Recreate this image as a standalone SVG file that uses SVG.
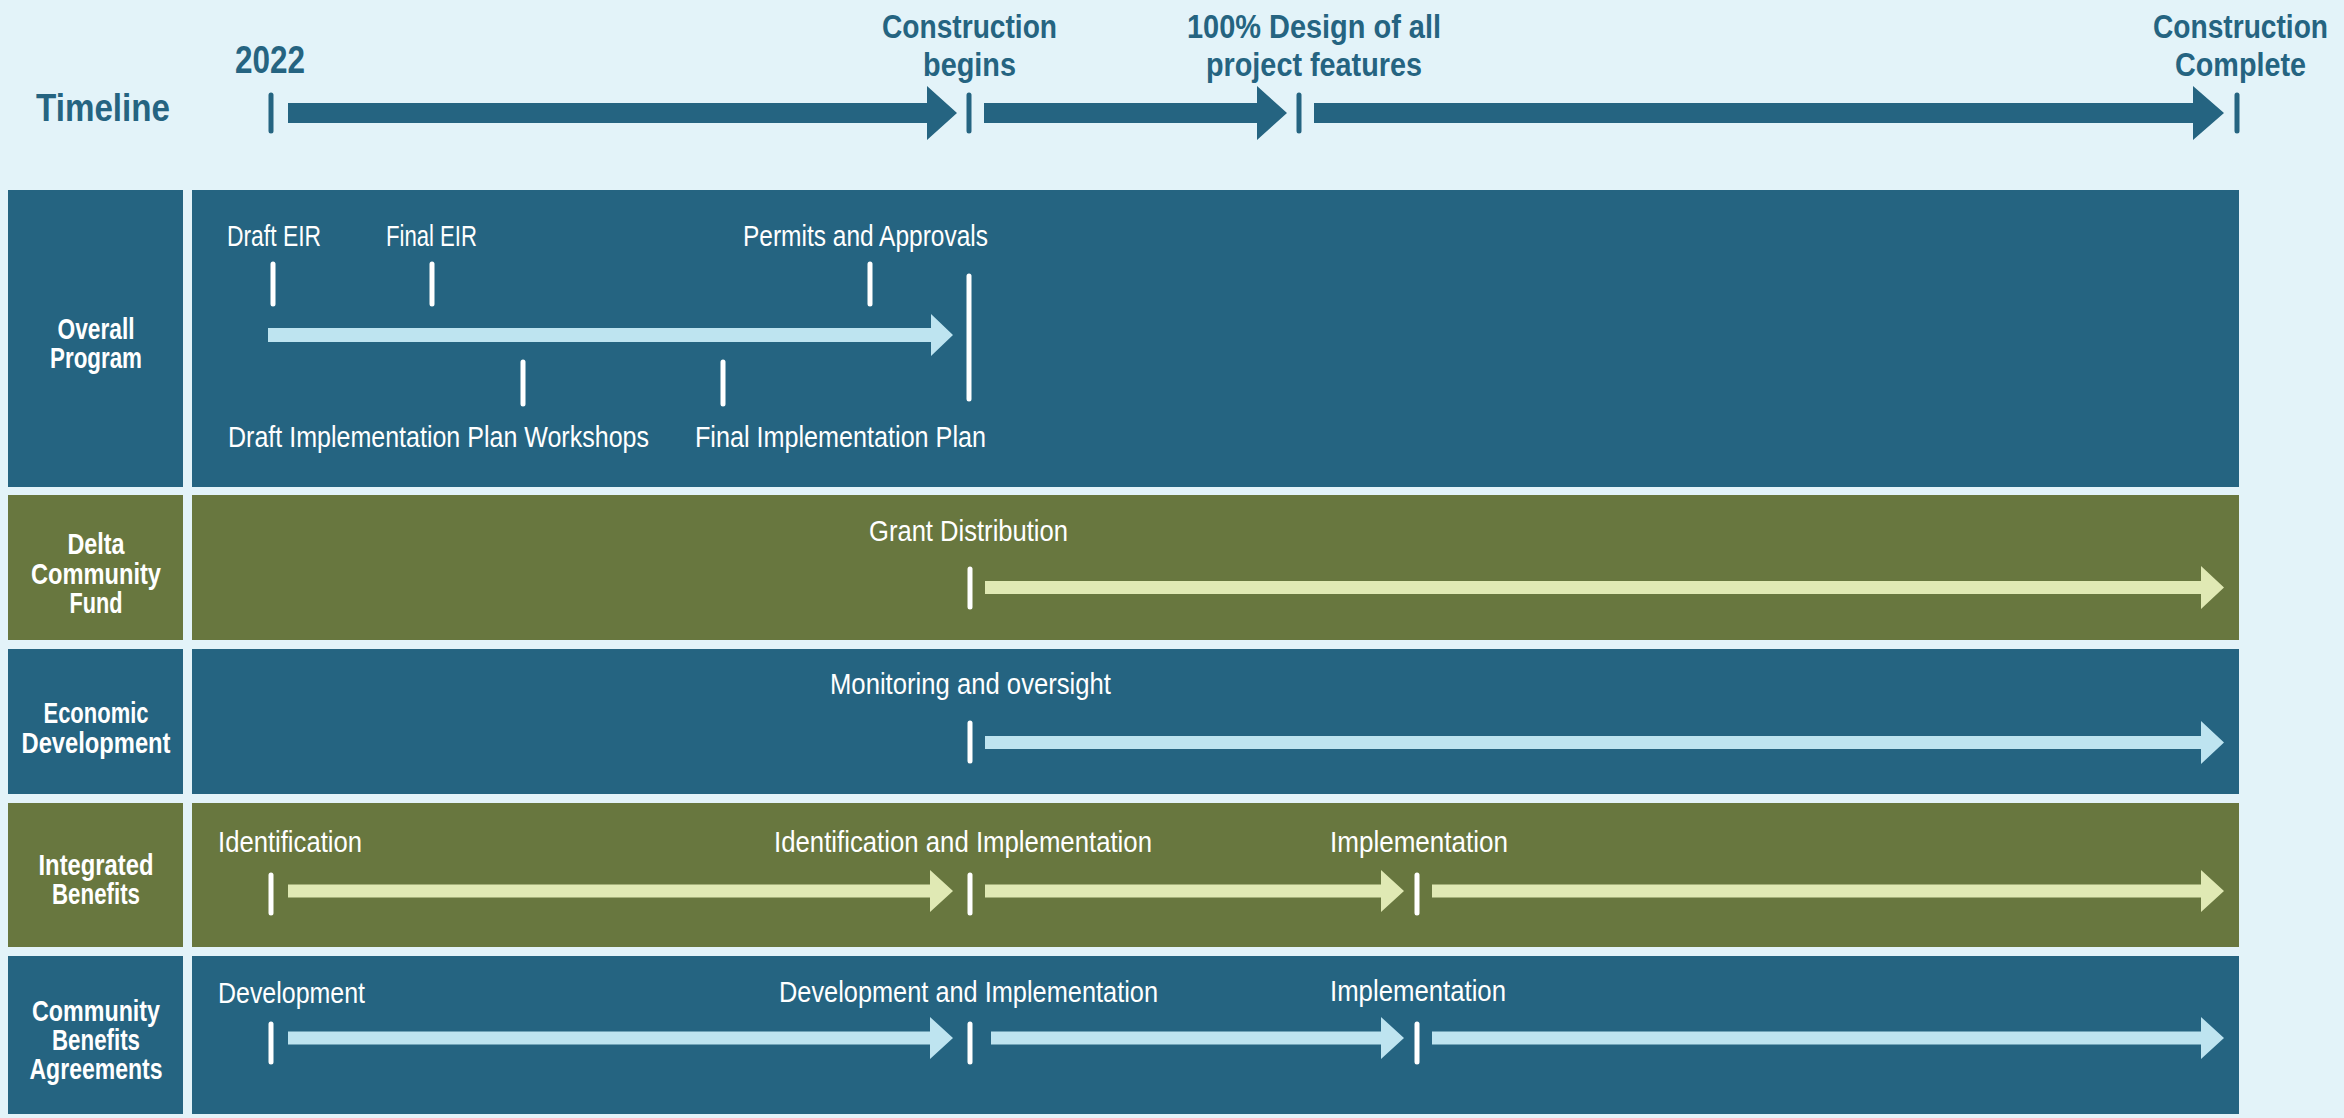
<svg xmlns="http://www.w3.org/2000/svg" width="2344" height="1118" viewBox="0 0 2344 1118">
<style>
.bg{fill:#E3F3F9}
.blue{fill:#256481}
.olive{fill:#68773F}
.tick{stroke:#FFFFFF;stroke-width:5;stroke-linecap:round;fill:none}
.htick{stroke:#256481;stroke-width:5;stroke-linecap:round;fill:none}
.harrow{fill:#256481}
.larrow{fill:#BEE4F0}
.garrow{fill:#E0E9B4}
.head{font-family:"Liberation Sans",Arial,sans-serif;font-weight:bold;fill:#256481}
.lbl{font-family:"Liberation Sans",Arial,sans-serif;font-weight:bold;font-size:30px;fill:#FFFFFF;text-anchor:middle}
.txt{font-family:"Liberation Sans",Arial,sans-serif;font-size:30px;fill:#FFFFFF}
</style>
<rect class="bg" x="0" y="0" width="2344" height="1118"/>

<g id="timeline-header">
  <text class="head" x="36" y="121" font-size="39" textLength="134" lengthAdjust="spacingAndGlyphs">Timeline</text>
  <text class="head" x="235" y="73" font-size="39" textLength="70" lengthAdjust="spacingAndGlyphs">2022</text>
  <text class="head" x="882" y="38" font-size="33" textLength="175" lengthAdjust="spacingAndGlyphs">Construction</text>
  <text class="head" x="923" y="76" font-size="33" textLength="93" lengthAdjust="spacingAndGlyphs">begins</text>
  <text class="head" x="1187" y="38" font-size="33" textLength="254" lengthAdjust="spacingAndGlyphs">100% Design of all</text>
  <text class="head" x="1206" y="76" font-size="33" textLength="216" lengthAdjust="spacingAndGlyphs">project features</text>
  <text class="head" x="2153" y="38" font-size="33" textLength="175" lengthAdjust="spacingAndGlyphs">Construction</text>
  <text class="head" x="2175" y="76" font-size="33" textLength="131" lengthAdjust="spacingAndGlyphs">Complete</text>
  <line class="htick" x1="271" y1="95" x2="271" y2="131"/>
  <line class="htick" x1="969" y1="95" x2="969" y2="131"/>
  <line class="htick" x1="1299" y1="95" x2="1299" y2="131"/>
  <line class="htick" x1="2237" y1="95" x2="2237" y2="131"/>
</g>

<g id="row-overall-program">
  <rect class="blue" x="8" y="190" width="175" height="297"/>
  <rect class="blue" x="192" y="190" width="2047" height="297"/>
  <text class="lbl" x="96" y="339" textLength="77" lengthAdjust="spacingAndGlyphs">Overall</text>
  <text class="lbl" x="96" y="368" textLength="92" lengthAdjust="spacingAndGlyphs">Program</text>
  <text class="txt" x="227" y="246" textLength="94" lengthAdjust="spacingAndGlyphs">Draft EIR</text>
  <text class="txt" x="386" y="246" textLength="91" lengthAdjust="spacingAndGlyphs">Final EIR</text>
  <text class="txt" x="743" y="246" textLength="245" lengthAdjust="spacingAndGlyphs">Permits and Approvals</text>
  <text class="txt" x="228" y="447" textLength="421" lengthAdjust="spacingAndGlyphs">Draft Implementation Plan Workshops</text>
  <text class="txt" x="695" y="447" textLength="291" lengthAdjust="spacingAndGlyphs">Final Implementation Plan</text>
  <line class="tick" x1="273" y1="264" x2="273" y2="304"/>
  <line class="tick" x1="432" y1="264" x2="432" y2="304"/>
  <line class="tick" x1="870" y1="264" x2="870" y2="304"/>
  <line class="tick" x1="523" y1="362" x2="523" y2="404"/>
  <line class="tick" x1="723" y1="362" x2="723" y2="404"/>
  <line class="tick" x1="969" y1="276" x2="969" y2="399"/>
</g>

<g id="row-delta-community-fund">
  <rect class="olive" x="8" y="495" width="175" height="145"/>
  <rect class="olive" x="192" y="495" width="2047" height="145"/>
  <text class="lbl" x="96" y="554" textLength="57" lengthAdjust="spacingAndGlyphs">Delta</text>
  <text class="lbl" x="96" y="584" textLength="130" lengthAdjust="spacingAndGlyphs">Community</text>
  <text class="lbl" x="96" y="613" textLength="53" lengthAdjust="spacingAndGlyphs">Fund</text>
  <text class="txt" x="869" y="541" textLength="199" lengthAdjust="spacingAndGlyphs">Grant Distribution</text>
  <line class="tick" x1="970" y1="569" x2="970" y2="607"/>
</g>

<g id="row-economic-development">
  <rect class="blue" x="8" y="649" width="175" height="145"/>
  <rect class="blue" x="192" y="649" width="2047" height="145"/>
  <text class="lbl" x="96" y="723" textLength="105" lengthAdjust="spacingAndGlyphs">Economic</text>
  <text class="lbl" x="96" y="753" textLength="149" lengthAdjust="spacingAndGlyphs">Development</text>
  <text class="txt" x="830" y="694" textLength="281" lengthAdjust="spacingAndGlyphs">Monitoring and oversight</text>
  <line class="tick" x1="970" y1="723" x2="970" y2="761"/>
</g>

<g id="row-integrated-benefits">
  <rect class="olive" x="8" y="803" width="175" height="144"/>
  <rect class="olive" x="192" y="803" width="2047" height="144"/>
  <text class="lbl" x="96" y="875" textLength="115" lengthAdjust="spacingAndGlyphs">Integrated</text>
  <text class="lbl" x="96" y="904" textLength="88" lengthAdjust="spacingAndGlyphs">Benefits</text>
  <text class="txt" x="218" y="852" textLength="144" lengthAdjust="spacingAndGlyphs">Identification</text>
  <text class="txt" x="774" y="852" textLength="378" lengthAdjust="spacingAndGlyphs">Identification and Implementation</text>
  <text class="txt" x="1330" y="852" textLength="178" lengthAdjust="spacingAndGlyphs">Implementation</text>
  <line class="tick" x1="271" y1="875" x2="271" y2="913"/>
  <line class="tick" x1="970" y1="875" x2="970" y2="913"/>
  <line class="tick" x1="1417" y1="875" x2="1417" y2="913"/>
</g>

<g id="row-community-benefits-agreements">
  <rect class="blue" x="8" y="956" width="175" height="158"/>
  <rect class="blue" x="192" y="956" width="2047" height="158"/>
  <text class="lbl" x="96" y="1021" textLength="128" lengthAdjust="spacingAndGlyphs">Community</text>
  <text class="lbl" x="96" y="1050" textLength="88" lengthAdjust="spacingAndGlyphs">Benefits</text>
  <text class="lbl" x="96" y="1079" textLength="133" lengthAdjust="spacingAndGlyphs">Agreements</text>
  <text class="txt" x="218" y="1003" textLength="147" lengthAdjust="spacingAndGlyphs">Development</text>
  <text class="txt" x="779" y="1002" textLength="379" lengthAdjust="spacingAndGlyphs">Development and Implementation</text>
  <text class="txt" x="1330" y="1001" textLength="176" lengthAdjust="spacingAndGlyphs">Implementation</text>
  <line class="tick" x1="271" y1="1024" x2="271" y2="1062"/>
  <line class="tick" x1="970" y1="1024" x2="970" y2="1062"/>
  <line class="tick" x1="1417" y1="1024" x2="1417" y2="1062"/>
</g>

<g id="connectors">
  <!-- header timeline arrows -->
  <path class="harrow" d="M288,103 L927,103 L927,86 L957,113 L927,140 L927,123 L288,123 Z"/>
  <path class="harrow" d="M984,103 L1257,103 L1257,86 L1287,113 L1257,140 L1257,123 L984,123 Z"/>
  <path class="harrow" d="M1314,103 L2193,103 L2193,86 L2224,113 L2193,140 L2193,123 L1314,123 Z"/>
  <!-- overall program -->
  <path class="larrow" d="M268,328 L931,328 L931,314 L953,335 L931,356 L931,342 L268,342 Z"/>
  <!-- delta community fund -->
  <path class="garrow" d="M985,581 L2201,581 L2201,566 L2224,587.5 L2201,609 L2201,594 L985,594 Z"/>
  <!-- economic development -->
  <path class="larrow" d="M985,736 L2201,736 L2201,721 L2224,742.5 L2201,764 L2201,749 L985,749 Z"/>
  <!-- integrated benefits -->
  <path class="garrow" d="M288,884.5 L930,884.5 L930,870 L953,891 L930,912 L930,897.5 L288,897.5 Z"/>
  <path class="garrow" d="M985,884.5 L1381,884.5 L1381,870 L1404,891 L1381,912 L1381,897.5 L985,897.5 Z"/>
  <path class="garrow" d="M1432,884.5 L2201,884.5 L2201,870 L2224,891 L2201,912 L2201,897.5 L1432,897.5 Z"/>
  <!-- community benefits agreements -->
  <path class="larrow" d="M288,1031.5 L930,1031.5 L930,1017 L953,1038 L930,1059 L930,1044.5 L288,1044.5 Z"/>
  <path class="larrow" d="M991,1031.5 L1381,1031.5 L1381,1017 L1404,1038 L1381,1059 L1381,1044.5 L991,1044.5 Z"/>
  <path class="larrow" d="M1432,1031.5 L2201,1031.5 L2201,1017 L2224,1038 L2201,1059 L2201,1044.5 L1432,1044.5 Z"/>
</g>
</svg>
